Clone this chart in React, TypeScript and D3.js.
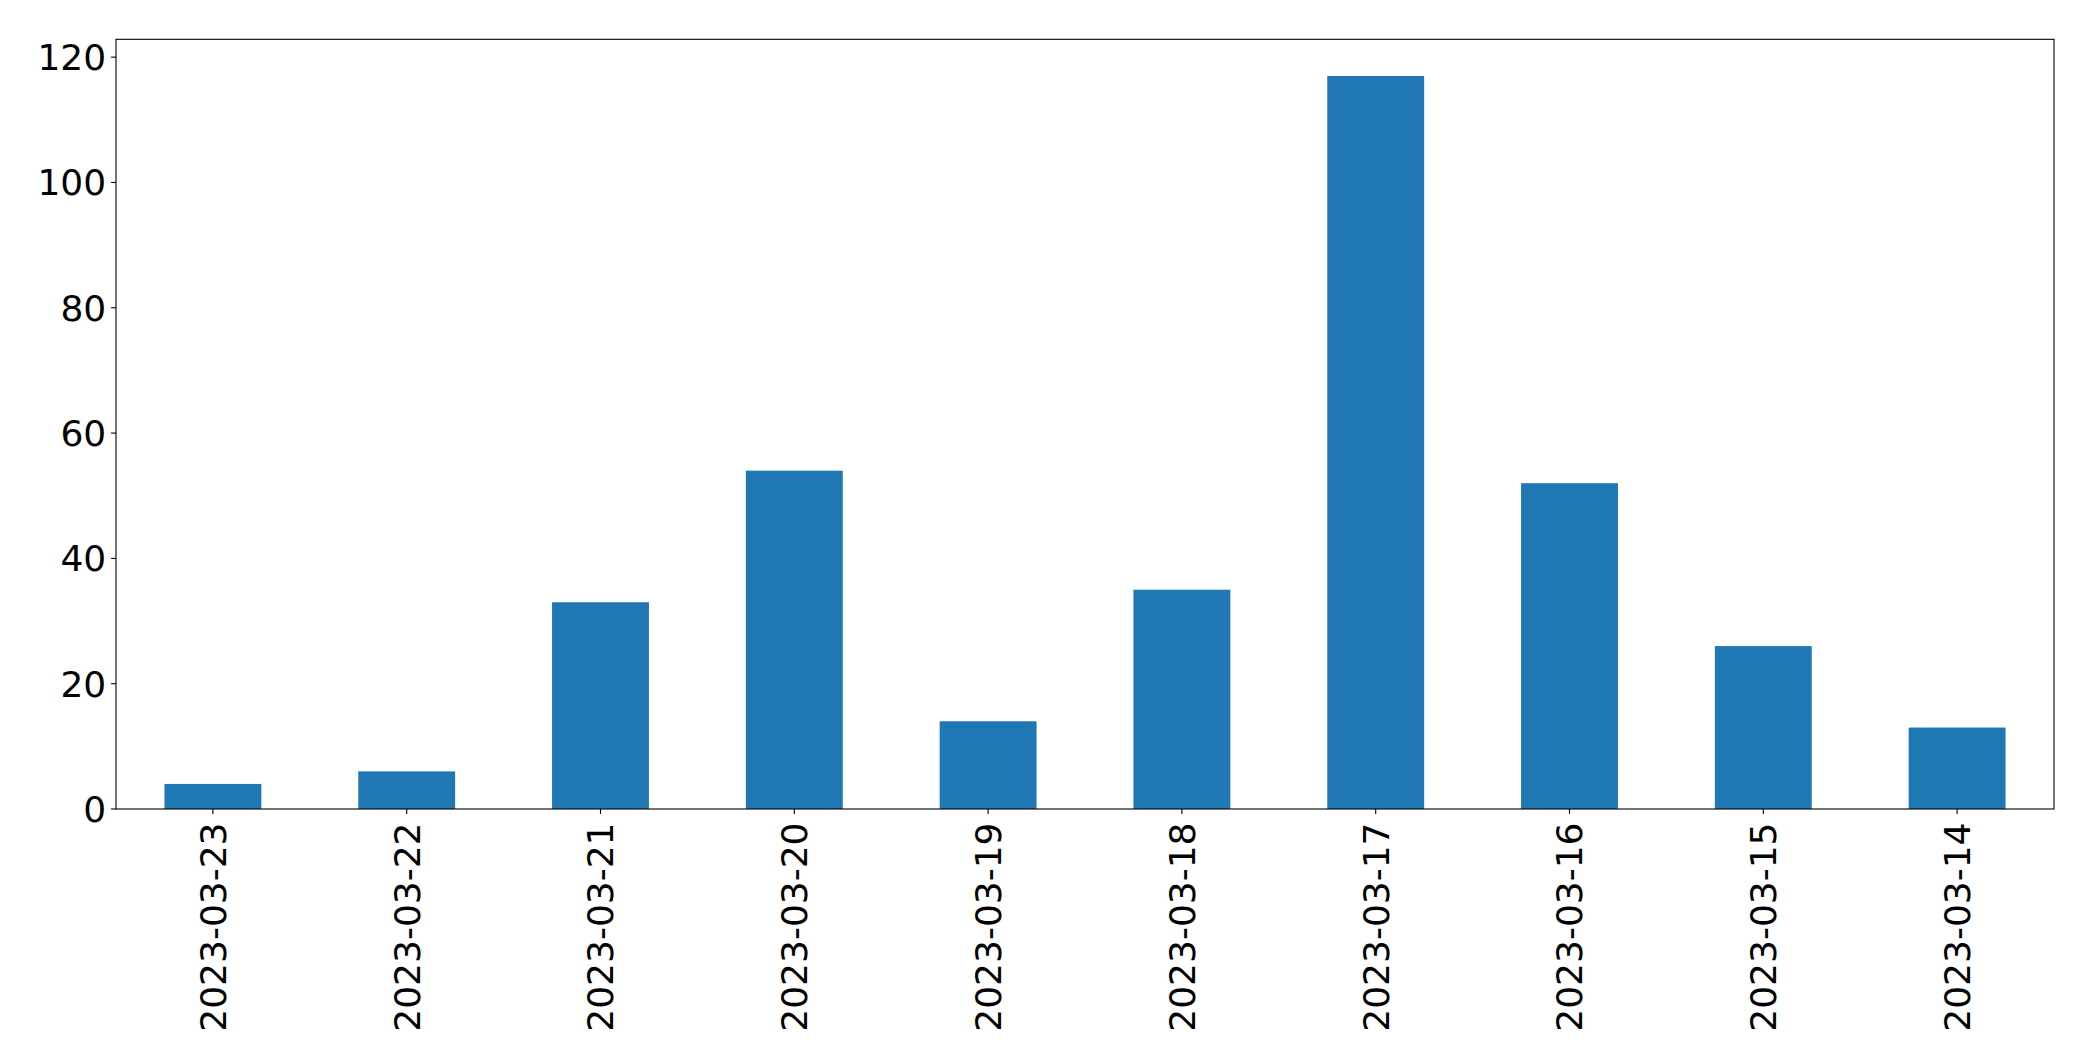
import * as d3 from "d3";
import { useEffect, useRef } from "react";

const dates = [
  "2023-03-23",
  "2023-03-22",
  "2023-03-21",
  "2023-03-20",
  "2023-03-19",
  "2023-03-18",
  "2023-03-17",
  "2023-03-16",
  "2023-03-15",
  "2023-03-14",
];
const counts = [4, 6, 33, 54, 14, 35, 117, 52, 26, 13];
const yTicks = [0, 20, 40, 60, 80, 100, 120];

const W = 2093;
const H = 1061;
const m = { left: 116, right: 2054, top: 39.3, bottom: 809 };

export default function App() {
  const ref = useRef<SVGSVGElement | null>(null);
  useEffect(() => {
    if (!ref.current) return;
    const svg = d3.select(ref.current);
    svg.selectAll("*").remove();
    const font = "'DejaVu Sans', sans-serif";

    const x = d3.scaleBand<string>().domain(dates).range([m.left, m.right]).paddingInner(0).paddingOuter(0);
    const barW = x.bandwidth() * 0.5;
    const ymax = (d3.max(counts) ?? 1) * 1.05;
    const y = d3.scaleLinear().domain([0, ymax]).range([m.bottom, m.top]);

    svg.append("rect").attr("width", W).attr("height", H).attr("fill", "#fff");

    svg
      .append("g")
      .selectAll("rect")
      .data(counts)
      .join("rect")
      .attr("x", (_, i) => (x(dates[i]) ?? 0) + x.bandwidth() / 2 - barW / 2)
      .attr("width", barW)
      .attr("y", (d) => y(d))
      .attr("height", (d) => y(0) - y(d))
      .attr("fill", "#1f77b4");

    // y ticks
    const yg = svg.append("g");
    yTicks.forEach((t) => {
      yg.append("line")
        .attr("x1", m.left - 4.9)
        .attr("x2", m.left)
        .attr("y1", y(t))
        .attr("y2", y(t))
        .attr("stroke", "#000")
        .attr("stroke-width", 1.1);
      yg.append("text")
        .attr("x", m.left - 9.8)
        .attr("y", y(t))
        .attr("dy", "0.36em")
        .attr("text-anchor", "end")
        .attr("font-family", font)
        .attr("font-size", 36)
        .attr("fill", "#000")
        .text(t);
    });

    // x ticks
    const xg = svg.append("g");
    dates.forEach((d) => {
      const cx = (x(d) ?? 0) + x.bandwidth() / 2;
      xg.append("line")
        .attr("x1", cx)
        .attr("x2", cx)
        .attr("y1", m.bottom)
        .attr("y2", m.bottom + 4.9)
        .attr("stroke", "#000")
        .attr("stroke-width", 1.1);
      xg.append("text")
        .attr("transform", `translate(${cx},${m.bottom + 13.5}) rotate(-90)`)
        .attr("dy", "0.36em")
        .attr("text-anchor", "end")
        .attr("font-family", font)
        .attr("font-size", 36)
        .attr("fill", "#000")
        .text(d);
    });

    svg
      .append("rect")
      .attr("x", m.left)
      .attr("y", m.top)
      .attr("width", m.right - m.left)
      .attr("height", m.bottom - m.top)
      .attr("fill", "none")
      .attr("stroke", "#000")
      .attr("stroke-width", 1.1);
  }, []);
  return (
    <svg
      ref={ref}
      width={W}
      height={H}
      viewBox={`0 0 ${W} ${H}`}
      style={{ position: "absolute", left: 0, top: 0, display: "block" }}
    />
  );
}
